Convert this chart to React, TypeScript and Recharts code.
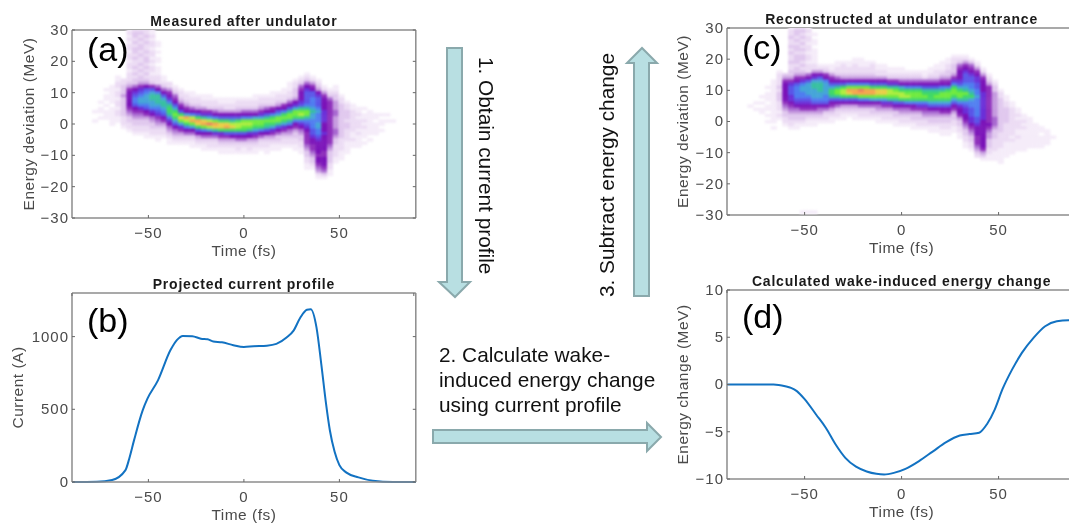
import React from "react";
import { ScatterChart, Scatter, LineChart, Line, XAxis, YAxis } from "recharts";

// heatmap columns: [time (fs), energy of first cell (MeV), one intensity letter per 1 MeV going down]
type Column = [number, number, string];

const measuredColumns: Column[] = [
  [-78, 4, "a..a"],
  [-75, 7, "a.aa.a"],
  [-72, 11, "a.aa.a.aaa"],
  [-69, 12, "aaaaaa.aaaaaa"],
  [-66, 15, "aabbabbabbabbaa"],
  [-63, 14, "bbcccdccccccbbba"],
  [-60, 30, "abababbabbabbabbbcdfgggggfedccbba"],
  [-57, 30, "bccbcbccbcbbcbcbcceghijjigfedccbba"],
  [-54, 30, "bcbcbccbcbbcbcbccdfhijkkjhfedccbba"],
  [-51, 30, "bbcbcbbcbccbcbcbcdgijkkkjigfdccbbaa"],
  [-48, 30, "aababbabbababbabbcfikllkkjhgedccbba"],
  [-45, 26, "aa.a.aa.aaabbbegjlllkjihfedcbbaa"],
  [-42, 15, "aabcegikllkjigfdcbba"],
  [-39, 13, "bbdfghjlmmljhgedcbaa"],
  [-36, 12, "abcefgikmnmkigedcba"],
  [-33, 11, "abbcdfgimpnkhfdcba"],
  [-30, 10, "abbcdfgkqomjgecba"],
  [-27, 10, "aabbcegjoqnkgecbaa"],
  [-24, 9, "abbcdgimqpmigdcba"],
  [-21, 9, "aabbdfhlpqnjgecbaa"],
  [-18, 9, "aabbcfhkorokgecbba"],
  [-15, 8, "abbcegjnqplhecbba"],
  [-12, 8, "aabcdgimppmhfdcbaa"],
  [-9, 8, "aabbdgimpqmifdcbaa"],
  [-6, 8, "aabbdgilopmigdcbaa"],
  [-3, 8, "abbcdgimoomigecbba"],
  [0, 8, "abbcegjnonmigecbaa"],
  [3, 8, "abbcegjnonlhgdcbba"],
  [6, 9, "aabbcegknnmkhfdcbaa"],
  [9, 9, "abbcdfhknnmjgecbba"],
  [12, 9, "abbcegilnmligdcbbaa"],
  [15, 10, "aabbcfgjmnmkhfdcbaa"],
  [18, 10, "abbcdgiknnligeccbaa"],
  [21, 11, "aabbcfgjmnmkhfdcbba"],
  [24, 13, "aaabbcegilnnljgedcbba"],
  [27, 14, "abbcccdghknnmjgfdccbbaa"],
  [30, 15, "abcefggghilnomjhgedccbbaa"],
  [33, 16, "abceghiiiijlnnljihgffffedccbbaa"],
  [36, 15, "abdfgiijjjklkkjjjiihggffedccba"],
  [39, 14, "abcdghiiijkjjjkkjjihggggfggfedba"],
  [42, 12, "abdfgggghhhhggghgggggffgggfeca"],
  [45, 11, "abceffffffffffffffedccccbbaa"],
  [48, 12, "aabccdddeeddddeedccbbbbaa"],
  [51, 9, "abbcccccccccccbbbbaaa"],
  [54, 7, "abbcccbccbbbbaaaa"],
  [57, 6, "aabbbbbbbaabaa"],
  [60, 5, "aababbbabaaaa"],
  [63, 5, "a.aababaaa.a"],
  [66, 4, "aaaaaaaa.a"],
  [69, 3, "aa.aaaa"],
  [72, 3, "a.aa.a"],
  [75, 3, "a.a"],
  [78, 1, "a"],
];

const reconstructedColumns: Column[] = [
  [-78, 5, "a"],
  [-75, 6, "a.a"],
  [-72, 8, "a.a.aa"],
  [-69, 11, "a.aaa.aa.a.a"],
  [-66, 13, "aaaaaaaaaaaaaa.a"],
  [-63, 16, "abbbbcbcccbbbaba"],
  [-60, 15, "cdfggggggfedccbba"],
  [-57, 30, "abbcbbcbcbbcbbccdfhiiihhgfedccbba"],
  [-54, 30, "bccbcbccbcccbccdfgijjjjihgedccbaa"],
  [-51, 30, "bcbcbcbcbccbcbcdfhjkkjjihgfdccba"],
  [-48, 30, "ababbabbabbabbbegikkkkjihgfdcbaa"],
  [-45, 28, "a.aa.aaaaabbdghkllkkkjigfdcbaa"],
  [-42, 18, "abdgiklllkkjigedcba"],
  [-39, 18, "abcfgjkkkkjjigecbba"],
  [-36, 18, "aabdfgikmmligfdcbaa"],
  [-33, 19, "aabbcegilnnligecbba"],
  [-30, 19, "abbbcdgimoomigdcbaa"],
  [-27, 19, "aabbcdgjnqpmigdcba"],
  [-24, 20, "aabbbcdgjnqqmigdcbaa"],
  [-21, 20, "aaabbcdgjnrqnjgecbba"],
  [-18, 19, "aabbcdgjnqqnjgecbba"],
  [-15, 19, "abbbcdgimqqnkgeccba"],
  [-12, 18, "aabbdgimppnkgedcbaa"],
  [-9, 18, "aabbdgimppnkhfdcbba"],
  [-6, 17, "aabcfhloonlhfdcbba"],
  [-3, 17, "aabcfhlnonligeccbaa"],
  [0, 17, "aabcegkmoomigedcbba"],
  [3, 16, "abcegjmnomjgedcbba"],
  [6, 16, "abcegjmnnmjgfdccbaa"],
  [9, 16, "abcegjmnnmjhfdccbba"],
  [12, 16, "aabegilmnmjhfedcbba"],
  [15, 17, "aabcegilmmmkigedccbaa"],
  [18, 18, "aabbcegilmnmkigedccbaa"],
  [21, 19, "aaabcdfgjlnnmkigfdccbbaa"],
  [24, 20, "aabbccdfgjmnnmkigfdccbbaa"],
  [27, 21, "abbcccdfhjmnnmkigfdccbbaa"],
  [30, 21, "abcefggghikmnnljhggfdccbbaa"],
  [33, 21, "abdfghiiijklnmljihhggfedccbbaa"],
  [36, 20, "acefghiijjklmkjjiiihhgfedccbba"],
  [39, 19, "abdfghhiijjkjjjjjjiihgggfffedcb"],
  [42, 17, "abdfgggghhhhhhhhhgggggggggfdca"],
  [45, 15, "abcdffffffffffffgfeddcccbbaa"],
  [48, 13, "abccddddddddeeedcccbbbbaaa"],
  [51, 10, "abbcccccccccccbbbbbaaaaa"],
  [54, 8, "aabbcccccbbbbbbaaaaa"],
  [57, 6, "aabbbbbbbbbabaaaa"],
  [60, 4, "aababbbaabaaaa"],
  [63, 2, "aababaaaaaaa"],
  [66, 1, "aaaaaaaaaa"],
  [69, -1, "aaaaaaaa"],
  [72, -2, "aa.aaaa"],
  [75, -3, "aaaaa"],
  [78, -5, "a"],
  [-51, -29, "a"],
  [-48, -29, "a"],
  [-45, -29, "a"],
];

const currentTime = [-90, -77, -69, -62, -60, -57.5, -53, -50.5, -45, -38.5, -35, -32, -27, -22.5, -19, -16, -11.5, -5.5, 0, 5, 12, 17, 22.5, 26, 29.5, 33, 35, 38, 40.5, 43, 45, 47.5, 50, 53.5, 60, 67.5, 78, 90];
const currentAmps = [0, 2, 14, 82, 162, 288, 493, 573, 699, 906, 978, 1005, 1003, 986, 982, 966, 961, 941, 929, 934, 938, 950, 995, 1041, 1130, 1185, 1189, 1064, 813, 539, 356, 208, 116, 66, 32, 9, 0, 0];

const wakeTime = [-90, -66, -60, -57, -54, -50, -44, -39, -34, -29, -23.5, -18, -13, -9, -4, 2, 9, 16, 23, 30, 35, 40, 44, 48, 52, 57, 62, 68, 74, 80, 86, 90];
const wakeEnergy = [0, 0, -0.18, -0.35, -0.7, -1.55, -3.2, -4.6, -6.35, -7.76, -8.7, -9.2, -9.45, -9.52, -9.35, -8.92, -8.1, -7.1, -6.1, -5.4, -5.25, -5.1, -4.2, -2.65, -0.5, 1.6, 3.35, 4.94, 6.17, 6.7, 6.8, 6.8];

const timeTicks = [-50, 0, 50];
const deviationTicks = [-30, -20, -10, 0, 10, 20, 30];
const currentTicks = [0, 500, 1000];
const wakeTicks = [-10, -5, 0, 5, 10];

const levelColors: Record<string, string> = {
  a: "#f5ecf9", b: "#ecdcf4", c: "#e0c8ee", d: "#c59adf", e: "#a868d0", f: "#8f30bc",
  g: "#7a12b8", h: "#6a2fd8", i: "#5a55e8", j: "#4f7df0", k: "#45a5d8", l: "#38c0a0",
  m: "#40d868", n: "#70ea40", o: "#b0ee40", p: "#e8d048", q: "#f4a850", r: "#f08060",
};

const SANS = "'Liberation Sans', Arial, sans-serif";
const TICK_COLOR = "#4a4a4a";
const BOX_COLOR = "#8c8c8c";
const MARK_COLOR = "#666";
const LINE_COLOR = "#1272c2";

const minus = (v: number) => String(v).replace("-", "\u2212");

function toCells(columns: Column[]) {
  const cells: { t: number; e: number; fill: string }[] = [];
  columns.forEach(([t, top, levels]) => {
    [...levels].forEach((ch, i) => {
      if (ch !== ".") cells.push({ t, e: top - i, fill: levelColors[ch] });
    });
  });
  return cells;
}

const tickStyle = { fontFamily: SANS, fontSize: 15, fill: TICK_COLOR, letterSpacing: 1 };
const labelStyle = { fontFamily: SANS, fontSize: 15.5, fill: TICK_COLOR, letterSpacing: 0.5, textAnchor: "middle" as const };
const titleStyle = { fontFamily: SANS, fontSize: 14, fontWeight: 700, fill: "#1a1a1a", letterSpacing: 0.8, textAnchor: "middle" as const };
const lineProps = { stroke: BOX_COLOR, strokeWidth: 1.5 };

// inward tick marks, matlab box style, text only on the bottom and left axes
const bottomTick = (p: any) => (
  <g>
    <line x1={p.x} x2={p.x} y1={p.y} y2={p.y - 3} stroke={MARK_COLOR} />
    <text x={p.x} y={p.y + 20} textAnchor="middle" {...tickStyle}>{minus(p.payload.value)}</text>
  </g>
);
const leftTick = (p: any) => (
  <g>
    <line x1={p.x} x2={p.x + 3} y1={p.y} y2={p.y} stroke={MARK_COLOR} />
    <text x={p.x - 3} y={p.y + 5} textAnchor="end" {...tickStyle}>{minus(p.payload.value)}</text>
  </g>
);
const topTick = (p: any) => <line x1={p.x} x2={p.x} y1={p.y} y2={p.y + 3} stroke={MARK_COLOR} />;
const rightTick = (p: any) => <line x1={p.x} x2={p.x - 3} y1={p.y} y2={p.y} stroke={MARK_COLOR} />;

function frame(o: { title: string; ylabel: string; yDomain: number[]; yTicks: number[]; yLabelOffset: number; yKey?: string; clip: boolean }) {
  return [
    <XAxis key="b" type="number" dataKey="t" domain={[-90, 90]} ticks={timeTicks} allowDataOverflow={o.clip} height={52}
      axisLine={lineProps} tickLine={false} tickSize={0} tickMargin={0} tick={bottomTick}
      label={{ value: "Time (fs)", position: "insideBottom", offset: 14, style: labelStyle }} />,
    <XAxis key="t" xAxisId="top" orientation="top" type="number" domain={[-90, 90]} ticks={timeTicks} allowDataOverflow height={1}
      axisLine={lineProps} tickLine={false} tickSize={0} tickMargin={0} tick={topTick}
      label={{ value: o.title, position: "top", offset: 3, style: titleStyle }} />,
    <YAxis key="l" type="number" dataKey={o.yKey ?? "e"} domain={o.yDomain} ticks={o.yTicks} allowDataOverflow={o.clip} width={72}
      axisLine={lineProps} tickLine={false} tickSize={0} tickMargin={0} tick={leftTick}
      label={{ value: o.ylabel, angle: -90, position: "left", offset: o.yLabelOffset, style: labelStyle }} />,
    <YAxis key="r" yAxisId="right" orientation="right" type="number" domain={o.yDomain} ticks={o.yTicks} allowDataOverflow width={1}
      axisLine={lineProps} tickLine={false} tickSize={0} tickMargin={0} tick={rightTick} />,
  ];
}

function cellShape(w: number, h: number) {
  return (p: any) => (
    <rect x={p.cx - w / 2} y={p.cy - h / 2} width={w + 0.4} height={h + 0.4} fill={p.payload.fill} stroke="none" />
  );
}

function HeatPanel(props: { left: number; top: number; plotH: number; columns: Column[]; title: string; pxPerFs: number }) {
  const width = 72 + 180 * props.pxPerFs + 6;
  const height = props.plotH + 30 + 52;
  return (
    <div style={{ position: "absolute", left: props.left, top: props.top }}>
      <ScatterChart width={width} height={height} margin={{ top: 29, right: 5, bottom: 0, left: 0 }}>
        {frame({ title: props.title, ylabel: "Energy deviation (MeV)", yDomain: [-30, 30], yTicks: deviationTicks, yLabelOffset: -28, clip: true })}
        <Scatter data={toCells(props.columns)} isAnimationActive={false}
          shape={cellShape(3 * props.pxPerFs, props.plotH / 60)} />
      </ScatterChart>
    </div>
  );
}

function CurvePanel(props: { left: number; top: number; plotH: number; pxPerFs: number; title: string; ylabel: string; yDomain: number[]; yTicks: number[]; yLabelOffset: number; xs: number[]; ys: number[] }) {
  const rows = props.xs.map((t, i) => ({ t, v: props.ys[i] }));
  const width = 72 + 180 * props.pxPerFs + 6;
  const height = props.plotH + 30 + 52;
  return (
    <div style={{ position: "absolute", left: props.left, top: props.top }}>
      <LineChart width={width} height={height} data={rows} margin={{ top: 29, right: 5, bottom: 0, left: 0 }}>
        {frame({ title: props.title, ylabel: props.ylabel, yDomain: props.yDomain, yTicks: props.yTicks, yLabelOffset: props.yLabelOffset, yKey: "v", clip: false })}
        <Line dataKey="v" type="monotone" stroke={LINE_COLOR} strokeWidth={2} dot={false} isAnimationActive={false} />
      </LineChart>
    </div>
  );
}

function Arrow({ d }: { d: string }) {
  return <path d={d} fill="#b8dfe2" stroke="#8aa9ac" strokeWidth={2} strokeLinejoin="miter" />;
}

const panelLetter = { fontFamily: SANS, fontSize: 34, fill: "#000" };
const note = { fontFamily: SANS, fontSize: 20.8, fill: "#111" };

function Overlay() {
  return (
    <svg width={1069} height={523} style={{ position: "absolute", left: 0, top: 0, pointerEvents: "none" }}>
      <Arrow d="M447 48 H462 V282 H470 L455 297 L439 282 H447 Z" />
      <Arrow d="M634 296 H649 V63 H657 L642 48 L627 63 H634 Z" />
      <Arrow d="M433 430 H647 V423 L661 437 L647 451 V443 H433 Z" />
      <text {...note} transform="translate(479,57) rotate(90)">1. Obtain current profile</text>
      <text {...note} transform="translate(614,297) rotate(-90)">3. Subtract energy change</text>
      <text {...note} x={439} y={362}>2. Calculate wake-</text>
      <text {...note} x={439} y={387}>induced energy change</text>
      <text {...note} x={439} y={412}>using current profile</text>
      <text {...panelLetter} x={87} y={61}>(a)</text>
      <text {...panelLetter} x={87} y={332}>(b)</text>
      <text {...panelLetter} x={742} y={59}>(c)</text>
      <text {...panelLetter} x={742} y={328}>(d)</text>
    </svg>
  );
}

export default function App() {
  return (
    <div style={{ position: "absolute", left: 0, top: 0, width: 1069, height: 523, overflow: "hidden", background: "#fff", filter: "blur(0.35px)" }}>
      <style>{`.recharts-scatter { filter: blur(0.8px); }`}</style>
      <HeatPanel left={0} top={0} plotH={188} pxPerFs={1.91} columns={measuredColumns} title="Measured after undulator" />
      <HeatPanel left={655} top={-2} plotH={187} pxPerFs={1.94} columns={reconstructedColumns} title="Reconstructed at undulator entrance" />
      <CurvePanel left={0} top={263} plotH={189} pxPerFs={1.91} title="Projected current profile" ylabel="Current (A)" yDomain={[0, 1300]} yTicks={currentTicks} yLabelOffset={-17} xs={currentTime} ys={currentAmps} />
      <CurvePanel left={655} top={260} plotH={189} pxPerFs={1.94} title="Calculated wake-induced energy change" ylabel="Energy change (MeV)" yDomain={[-10, 10]} yTicks={wakeTicks} yLabelOffset={-28} xs={wakeTime} ys={wakeEnergy} />
      <Overlay />
    </div>
  );
}
